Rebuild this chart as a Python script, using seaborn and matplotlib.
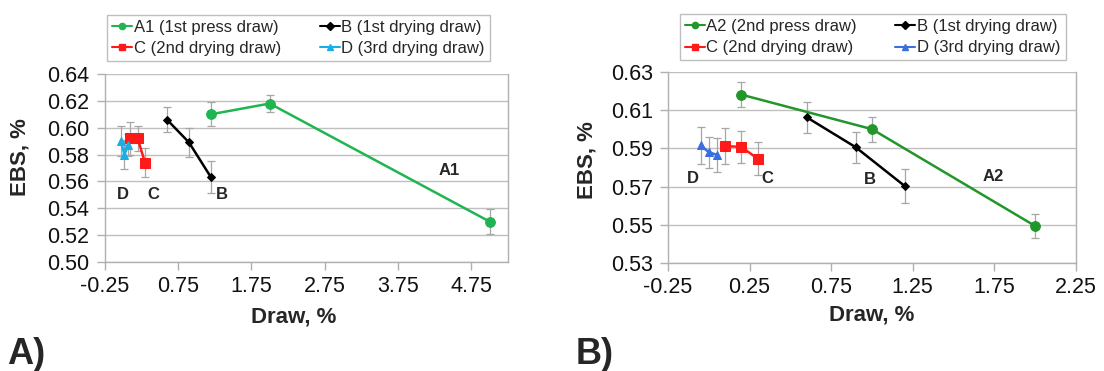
import numpy as np
import pandas as pd
import matplotlib
matplotlib.use("Agg")
import matplotlib.pyplot as plt
import seaborn as sns
from matplotlib.lines import Line2D

# ---------------- data (panel A) ----------------
a_series = ["A1 (1st press draw)", "B (1st drying draw)", "C (2nd drying draw)", "D (3rd drying draw)"]
a_A1_x = [1.2, 2.0, 5.0]
a_A1_y = [0.610, 0.618, 0.530]
a_A1_e = [0.009, 0.006, 0.0095]
a_B_x = [0.6, 0.9, 1.2]
a_B_y = [0.606, 0.589, 0.563]
a_B_e = [0.0095, 0.0105, 0.012]
a_C_x = [0.1, 0.2, 0.3]
a_C_y = [0.592, 0.592, 0.574]
a_C_e = [0.012, 0.009, 0.011]
a_D_x = [-0.03, 0.02, 0.07]
a_D_y = [0.590, 0.580, 0.587]
a_D_e = [0.011, 0.011, 0.008]

# ---------------- data (panel B) ----------------
b_series = ["A2 (2nd press draw)", "B (1st drying draw)", "C (2nd drying draw)", "D (3rd drying draw)"]
b_A2_x = [0.2, 1.0, 2.0]
b_A2_y = [0.618, 0.600, 0.5495]
b_A2_e = [0.0065, 0.0065, 0.0065]
b_B_x = [0.6, 0.9, 1.2]
b_B_y = [0.6062, 0.5906, 0.5704]
b_B_e = [0.008, 0.008, 0.009]
b_C_x = [0.1, 0.2, 0.3]
b_C_y = [0.5912, 0.5907, 0.5846]
b_C_e = [0.0095, 0.0085, 0.0085]
b_D_x = [-0.05, 0.0, 0.05]
b_D_y = [0.5916, 0.588, 0.5866]
b_D_e = [0.0097, 0.008, 0.009]

a_xticks = [-0.25, 0.75, 1.75, 2.75, 3.75, 4.75]
a_yticks = [0.50, 0.52, 0.54, 0.56, 0.58, 0.60, 0.62, 0.64]
b_xticks = [-0.25, 0.25, 0.75, 1.25, 1.75, 2.25]
b_yticks = [0.53, 0.55, 0.57, 0.59, 0.61, 0.63]

# point labels
a_lab = ["A1", "B", "C", "D"]
a_lab_x = [4.45, 1.35, 0.42, 0.0]
a_lab_y = [0.568, 0.550, 0.550, 0.550]
b_lab = ["A2", "B", "C", "D"]
b_lab_x = [1.74, 0.99, 0.36, -0.10]
b_lab_y = [0.5755, 0.5735, 0.5745, 0.5745]

sns.set_style("white")
plt.rcParams["font.family"] = ["Liberation Sans", "DejaVu Sans"]

fig = plt.figure(figsize=(11.04, 3.71), dpi=100)
axA = fig.add_axes([0.0948, 0.294, 0.3654, 0.5065])
axB = fig.add_axes([0.605, 0.290, 0.3696, 0.517])

markers = ["o", "D", "s", "^"]
msizes = [7, 4.5, 7, 6]


def panel(ax, names, xs, ys, es, colors, xticks, yticks, xlim, ylim, labs, lx, ly,
          leg_box, xlab_pos, ylab_pos):
    frames = []
    for n, x, y in zip(names, xs, ys):
        frames.append(pd.DataFrame({"Draw": x, "EBS": y, "series": n}))
    df = pd.concat(frames, ignore_index=True)
    for x, y, e in zip(xs, ys, es):
        ax.errorbar(x, y, yerr=e, fmt="none", ecolor="#a6a6a6", elinewidth=0.9,
                    capsize=3, capthick=0.9, zorder=2)
    for i, n in enumerate(names):
        sub = df[df.series == n]
        sns.lineplot(data=sub, x="Draw", y="EBS", ax=ax, color=colors[i], sort=False,
                     marker=markers[i], markersize=msizes[i], markeredgecolor=colors[i],
                     linewidth=1.8, estimator=None, legend=False, zorder=3)
    ax.set_xlim(*xlim)
    ax.set_ylim(*ylim)
    ax.set_xticks(xticks)
    ax.set_yticks(yticks)
    ax.set_xticklabels([f"{t:.2f}" for t in xticks], fontsize=15.5)
    ax.set_yticklabels([f"{t:.2f}" for t in yticks], fontsize=15.5)
    ax.grid(axis="y", color="#c0c0c0", linewidth=1)
    ax.set_axisbelow(True)
    for s in ["left", "bottom", "right"]:
        ax.spines[s].set_color("#b0b0b0")
        ax.spines[s].set_linewidth(1)
    ax.spines["top"].set_visible(False)
    ax.tick_params(axis="both", direction="out", length=6, color="#b0b0b0", width=1,
                   left=True, bottom=True, labelcolor="#111111")
    ax.tick_params(axis="x", pad=4)
    ax.tick_params(axis="y", pad=5)
    ax.set_xlabel("Draw, %", fontsize=16, fontweight="bold")
    ax.set_ylabel("EBS, %", fontsize=16, fontweight="bold")
    ax.xaxis.set_label_coords(*xlab_pos)
    ax.yaxis.set_label_coords(*ylab_pos)
    for t, x, y in zip(labs, lx, ly):
        ax.text(x, y, t, fontsize=12, fontweight="bold", ha="center", va="center")
    handles = [Line2D([0], [0], color=colors[i], marker=markers[i], markersize=4.5,
                      linewidth=1.5) for i in range(4)]
    order = [0, 2, 1, 3]
    leg = fig.legend([handles[k] for k in order], [names[k] for k in order], ncol=2,
                     loc="center", bbox_to_anchor=leg_box,
                     fontsize=12, frameon=True, fancybox=False, edgecolor="#b0b0b0",
                     handlelength=1.2, handletextpad=0.1, columnspacing=2.3,
                     labelspacing=0.4, borderpad=0.3, borderaxespad=0)
    leg.get_frame().set_linewidth(1)


panel(axA, a_series,
      [a_A1_x, a_B_x, a_C_x, a_D_x], [a_A1_y, a_B_y, a_C_y, a_D_y],
      [a_A1_e, a_B_e, a_C_e, a_D_e],
      ["#1fb550", "#000000", "#ff1a1a", "#1aaee8"],
      a_xticks, a_yticks, (-0.25, 5.25), (0.50, 0.64),
      a_lab, a_lab_x, a_lab_y, (0.2705, 0.898), (0.469, -0.235), (-0.185, 0.56))
panel(axB, b_series,
      [b_A2_x, b_B_x, b_C_x, b_D_x], [b_A2_y, b_B_y, b_C_y, b_D_y],
      [b_A2_e, b_B_e, b_C_e, b_D_e],
      ["#22962a", "#000000", "#ff1a1a", "#3b6fe0"],
      b_xticks, b_yticks, (-0.25, 2.25), (0.53, 0.63),
      b_lab, b_lab_x, b_lab_y, (0.7905, 0.9), (0.5, -0.215), (-0.172, 0.54))

fig.text(0.006, 0.02, "A)", fontsize=26, fontweight="bold", ha="left", va="baseline")
fig.text(0.521, 0.02, "B)", fontsize=26, fontweight="bold", ha="left", va="baseline")

fig.savefig("out.png", dpi=100)
